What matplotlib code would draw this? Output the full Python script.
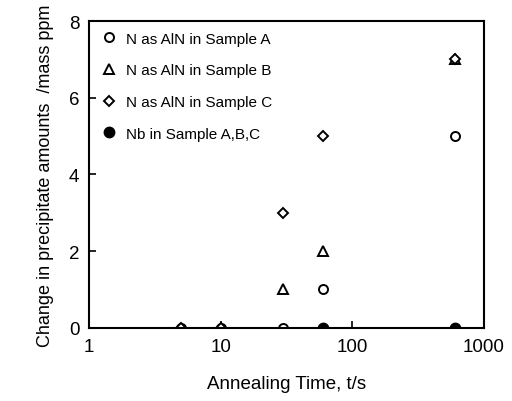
import numpy as np
import matplotlib.pyplot as plt

plt.rcParams['font.family'] = ['Liberation Sans', 'DejaVu Sans']

# annealing time (s) and change in precipitate amounts (mass ppm)
t_a = [5, 10, 30, 60, 600]
y_a = [0, 0, 0, 1, 5]
t_b = [5, 10, 30, 60, 600]
y_b = [0, 0, 1, 2, 7]
t_c = [5, 10, 30, 60, 600]
y_c = [0, 0, 3, 5, 7]
t_nb = [60, 600]
y_nb = [0, 0]

fig = plt.figure(figsize=(5.12, 4.02), dpi=100)
ax = fig.add_axes([0.174, 0.182, 0.771, 0.763])

ax.plot(t_a, y_a, 'o', mfc='white', mec='black', mew=1.4, ms=6.5, ls='none',
        label='N as AlN in Sample A')
ax.plot(t_b, y_b, '^', mfc='white', mec='black', mew=1.4, ms=6.5, ls='none',
        label='N as AlN in Sample B')
ax.plot(t_c, y_c, 'D', mfc='white', mec='black', mew=1.4, ms=5, ls='none',
        label='N as AlN in Sample C')
ax.plot(t_nb, y_nb, 'o', mfc='black', mec='black', ms=7.5, ls='none',
        label='Nb in Sample A,B,C')

ax.set_xscale('log')
ax.set_xlim(1, 1000)
ax.set_ylim(0, 8)
ax.set_xticks([1, 10, 100, 1000])
ax.set_xticklabels(['1', '10', '100', '1000'])
ax.xaxis.set_minor_locator(plt.NullLocator())
ax.set_yticks([0, 2, 4, 6, 8])
ax.tick_params(direction='in', length=5, width=1.2, labelsize=13.5, pad=7)
for s in ax.spines.values():
    s.set_linewidth(1.5)

ax.set_xlabel('Annealing Time, t/s', fontsize=13.5, labelpad=15)
ax.set_ylabel('Change in precipitate amounts  /mass ppm', fontsize=13, labelpad=11)

ax.legend(loc='upper left', frameon=False, fontsize=11, handletextpad=0.5,
          labelspacing=1.15, borderaxespad=0.3, handlelength=1.2)

fig.savefig('out.png', dpi=100)
